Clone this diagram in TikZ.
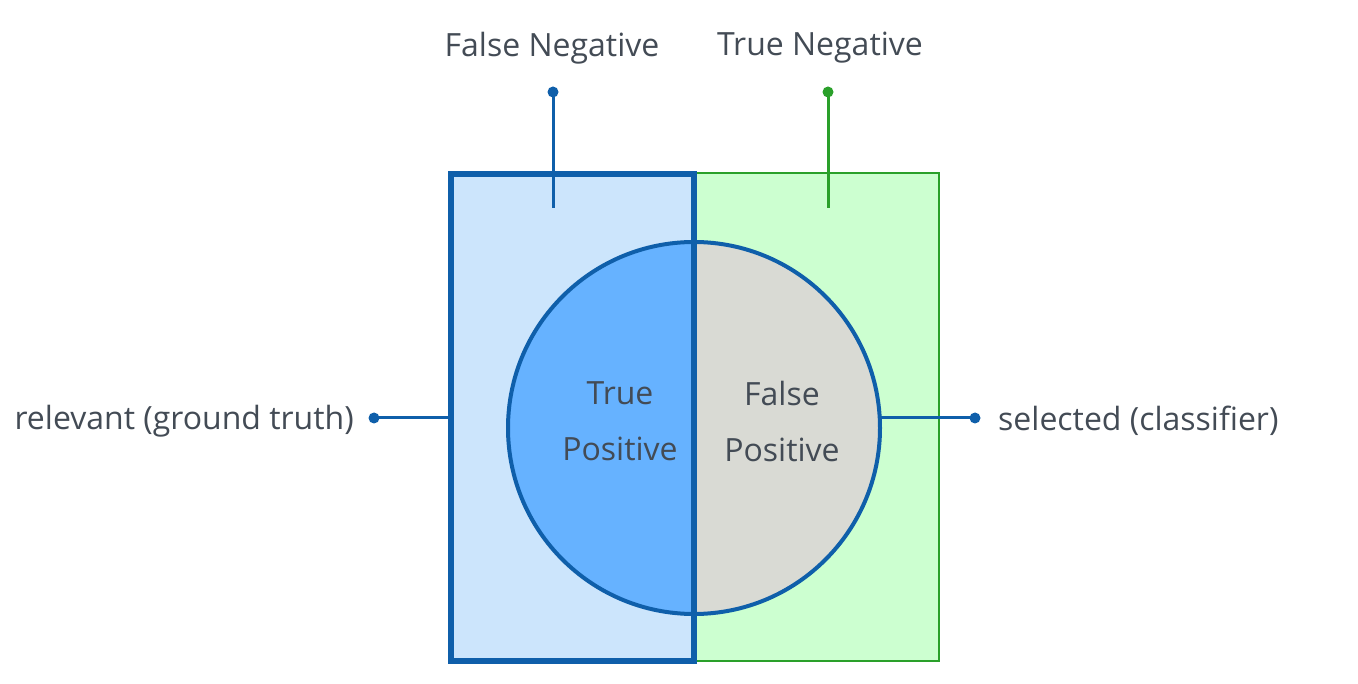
\documentclass[tikz,border=0pt]{standalone}
\usepackage{fontspec}
\setmainfont{Open Sans}
\definecolor{dblue}{HTML}{0F5FAA}
\definecolor{lblue}{HTML}{CCE5FC}
\definecolor{mblue}{HTML}{66B2FF}
\definecolor{lgreen}{HTML}{CCFFD0}
\definecolor{dgreen}{HTML}{2AA02A}
\definecolor{lgrey}{HTML}{D9DAD4}
\definecolor{txt}{HTML}{434B55}
\tikzset{
  lbl/.style={text=txt, font=\fontsize{32}{38}\selectfont, inner sep=0pt},
  dotb/.style={circle, fill=dblue, inner sep=0pt, minimum size=11pt},
  dotg/.style={circle, fill=dgreen, inner sep=0pt, minimum size=11pt},
  conb/.style={draw=dblue, line width=3pt},
  cong/.style={draw=dgreen, line width=3pt},
}
\begin{document}
\begin{tikzpicture}[x=1pt,y=-1pt]
\useasboundingbox (0,0) rectangle (1358,684);
% green rectangle
\draw[fill=lgreen, draw=dgreen, line width=2pt] (694,173) rectangle (939,661);
% blue rectangle fill
\fill[lblue] (451,174) rectangle (694,661);
% circle halves
\fill[mblue] (694,242) arc[start angle=270, end angle=90, radius=186] -- cycle;
\fill[lgrey] (694,242) arc[start angle=270, end angle=450, radius=186] -- cycle;
\node[circle, draw=dblue, line width=4pt, minimum size=372pt, inner sep=0pt] (circ) at (694,428) {};
% blue rectangle outline
\draw[dblue, line width=6pt] (451,174) rectangle (694,661);
% coordinates
\coordinate (fnend) at (553,208);
\coordinate (tnend) at (828,208);
\coordinate (lrect) at (448,418);
\coordinate (cedge) at (880,418);
% top labels
\node[lbl] (fn) at (552,48) {False Negative};
\node[lbl] (tn) at (820,48) {True Negative};
\node[dotb] (fndot) at (553,92) {};
\node[dotg] (tndot) at (828,92) {};
\draw[conb] (fndot.center) -- (fnend);
\draw[cong] (tndot.center) -- (tnend);
% side labels
\node[lbl, anchor=east] (rel) at (354,421) {relevant (ground truth)};
\node[dotb] (reldot) at (374,418) {};
\draw[conb] (reldot.center) -- (lrect);
\node[lbl, anchor=west] (sel) at (998,421) {selected (classifier)};
\node[dotb] (seldot) at (975,418) {};
\draw[conb] (cedge) -- (seldot.center);
% inner labels
\node[lbl, align=center] (tp) at (620,421) {True\\[18pt]Positive};
\node[lbl, align=center] (fp) at (782,421) {False\\[18pt]Positive};
\end{tikzpicture}
\end{document}
